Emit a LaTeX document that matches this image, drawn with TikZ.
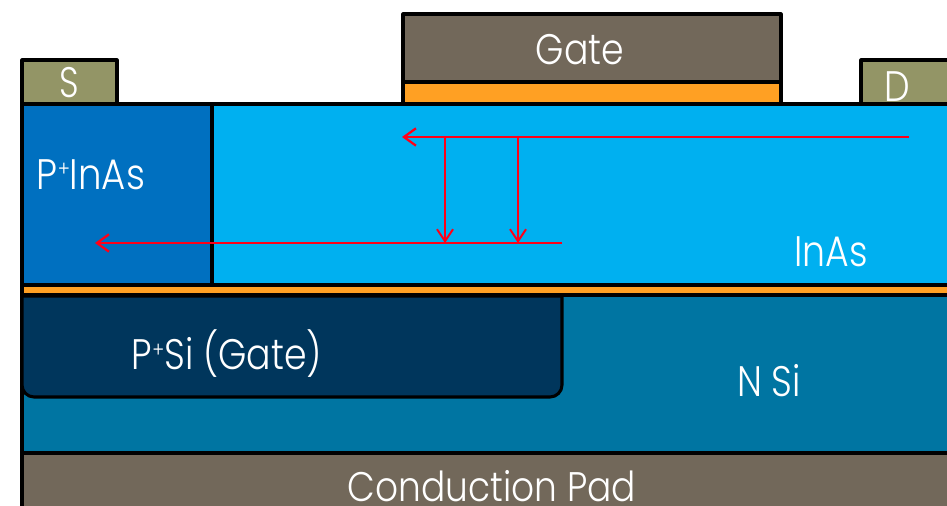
\documentclass[tikz,border=0pt]{standalone}
\usepackage{fontspec}
\setmainfont{Poppins}[UprightFont=* Light]
\usetikzlibrary{arrows.meta}
\definecolor{padc}{HTML}{72685A}
\definecolor{contc}{HTML}{939566}
\definecolor{oxc}{HTML}{FFA023}
\definecolor{inasc}{HTML}{00B0F0}
\definecolor{pinasc}{HTML}{0070C0}
\definecolor{nsic}{HTML}{0075A2}
\definecolor{psic}{HTML}{00365C}
\definecolor{arrc}{HTML}{FF0018}
\tikzset{
  x=0.75pt,y=-0.75pt,
  layer/.style={draw=black,line width=2.3pt,line join=round},
  lbl/.style={text=white,inner sep=0pt,anchor=center,font=\fontsize{32pt}{34pt}\selectfont},
  flow/.style={draw=arrc,line width=1.9pt,-{Straight Barb[length=9pt,width=13pt,line width=1.7pt]}},
  branch/.style={draw=arrc,line width=1.5pt,-{Straight Barb[length=9pt,width=12pt,line width=1.5pt]}},
}
\newcommand{\lab}[2]{\scalebox{#1}[1]{#2}}
\newcommand{\sups}{\raisebox{0.55ex}{\fontsize{16pt}{16pt}\selectfont +}}
\begin{document}
\begin{tikzpicture}
\useasboundingbox (0,0) rectangle (947,506);
\begin{scope}
\clip (0,0) rectangle (947,506);
\filldraw[layer,fill=nsic] (22,295) rectangle (960,453);
\filldraw[layer,fill=padc] (22,453) rectangle (960,520);
\filldraw[layer,fill=oxc] (22,285) rectangle (960,295);
\filldraw[layer,fill=inasc] (212,104) rectangle (960,285);
\filldraw[layer,fill=pinasc] (22,104) rectangle (212,285);
\filldraw[layer,fill=contc] (22,60) rectangle (117,104);
\filldraw[layer,fill=contc] (861,60) rectangle (960,104);
\filldraw[layer,fill=padc] (403,14) rectangle (781,82);
\filldraw[layer,fill=oxc] (403,82) rectangle (781,104);
\filldraw[layer,fill=psic] (22,296) -- (562,296) -- (562,385) arc[start angle=0,end angle=90,radius=12] -- (34,397) arc[start angle=90,end angle=180,radius=12] -- cycle;
\draw[layer] (22,295) -- (947,295);
\end{scope}
\node[lbl] (gate) at (580,50) {\lab{0.85}{Gate}};
\node[lbl] (s) at (69,83) {\lab{0.8}{S}};
\node[lbl] (d) at (897,87) {\lab{0.85}{D}};
\node[lbl] (pinas) at (91,175) {\lab{0.87}{P\sups InAs}};
\node[lbl] (inas) at (831,252) {\lab{0.85}{InAs}};
\node[lbl] (psi) at (227,354) {\lab{0.85}{P\sups Si (Gate)}};
\node[lbl] (nsi) at (769,381) {\lab{0.85}{N Si}};
\node[lbl,font=\fontsize{31pt}{33pt}\selectfont] (pad) at (492,486) {\lab{0.87}{Conduction Pad}};
\coordinate (topR) at (909,137);
\coordinate (topL) at (402,137);
\coordinate (botR) at (562,243);
\coordinate (botL) at (95,243);
\coordinate (a1) at (445,137);
\coordinate (a2) at (445,243);
\coordinate (b1) at (518,137);
\coordinate (b2) at (518,243);
\draw[flow] (topR) -- (topL);
\draw[flow] (botR) -- (botL);
\draw[branch] (a1) -- (a2);
\draw[branch] (b1) -- (b2);
\end{tikzpicture}
\end{document}
